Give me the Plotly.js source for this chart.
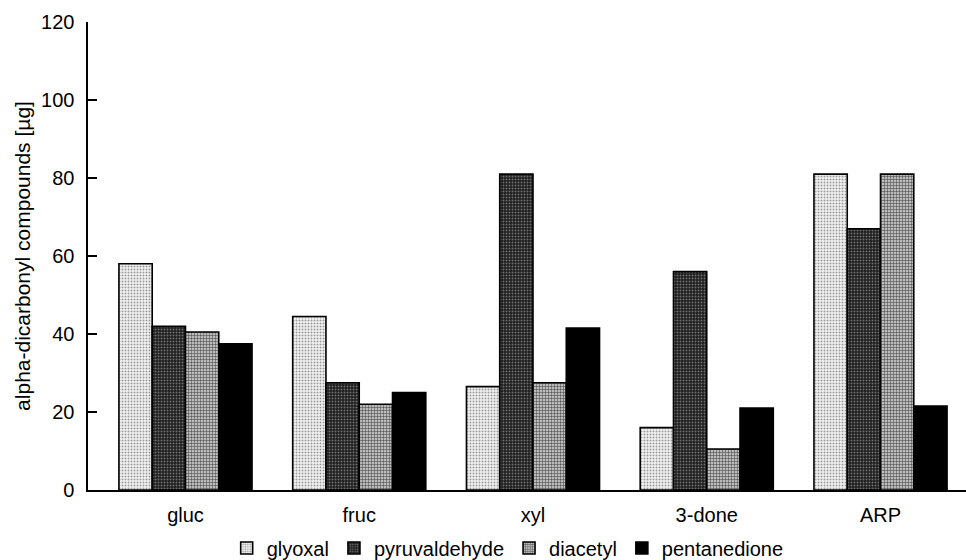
<!DOCTYPE html>
<html>
<head>
<meta charset="utf-8">
<script src="https://cdn.plot.ly/plotly-3.0.1.min.js"></script>
<style>html,body{margin:0;padding:0;background:#fff;}#chart{width:966px;height:560px;}</style>
</head>
<body>
<div id="chart"></div>
<script>
const categories = ["gluc", "fruc", "xyl", "3-done", "ARP"];
const glyoxal = [58, 44.5, 26.5, 16, 81];
const pyruvaldehyde = [42, 27.5, 81, 56, 67];
const diacetyl = [40.5, 22, 27.5, 10.5, 81];
const pentanedione = [37.5, 25, 41.5, 21, 21.5];
const seriesNames = ["glyoxal", "pyruvaldehyde", "diacetyl", "pentanedione"];
const yTicks = [0, 20, 40, 60, 80, 100, 120];

const FONT = "Liberation Sans, Arial, Helvetica, sans-serif";
const outline = {color: "#000", width: 1.6};

const styles = [
  {color: "#ececec", pattern: {shape: ".", bgcolor: "#f4f4f4", fgcolor: "#9a9a9a", size: 3, solidity: 0.35}},
  {color: "#2a2a2a", pattern: {shape: ".", bgcolor: "#1c1c1c", fgcolor: "#6e6e6e", size: 3, solidity: 0.35}},
  {color: "#a8a8a8", pattern: {shape: ".", bgcolor: "#dadada", fgcolor: "#5a5a5a", size: 3, solidity: 0.5}},
  {color: "#000000"}
];
const values = [glyoxal, pyruvaldehyde, diacetyl, pentanedione];

const data = values.map((v, i) => {
  const m = {color: styles[i].color, line: outline};
  if (styles[i].pattern) m.pattern = Object.assign({fillmode: "replace"}, styles[i].pattern);
  return {type: "bar", name: seriesNames[i], x: categories, y: v, marker: m, hoverinfo: "x+y+name"};
});

const layout = {
  width: 966, height: 560,
  margin: {l: 88, r: 0, t: 22, b: 70, autoexpand: false},
  paper_bgcolor: "#fff", plot_bgcolor: "#fff",
  font: {family: FONT, size: 20, color: "#000"},
  barmode: "group", bargap: 0.234, bargroupgap: 0,
  showlegend: true,
  legend: {orientation: "h", x: 0.478, xanchor: "center", y: -0.124, yanchor: "middle",
           font: {family: FONT, size: 20, color: "#000"}, traceorder: "normal",
           bgcolor: "rgba(0,0,0,0)"},
  xaxis: {type: "category", range: [-0.561, 4.492], showline: true, linecolor: "#000", linewidth: 1.6,
          ticks: "", showgrid: false, zeroline: false, ticklabelstandoff: 6, fixedrange: true,
          tickfont: {family: FONT, size: 20, color: "#000"}},
  yaxis: {range: [0, 120], tickvals: yTicks, ticktext: yTicks.map(String), showline: true, linecolor: "#000", linewidth: 1.6,
          ticks: "inside", ticklen: 9, tickwidth: 1.2, tickcolor: "#000", showgrid: false, zeroline: false,
          ticklabelstandoff: 8, fixedrange: true,
          tickfont: {family: FONT, size: 20, color: "#000"},
          title: {text: "alpha-dicarbonyl compounds [µg]", font: {family: FONT, size: 21, color: "#000"}, standoff: 4}}
};

Plotly.newPlot("chart", data, layout, {displayModeBar: false, staticPlot: true});
</script>
</body>
</html>
